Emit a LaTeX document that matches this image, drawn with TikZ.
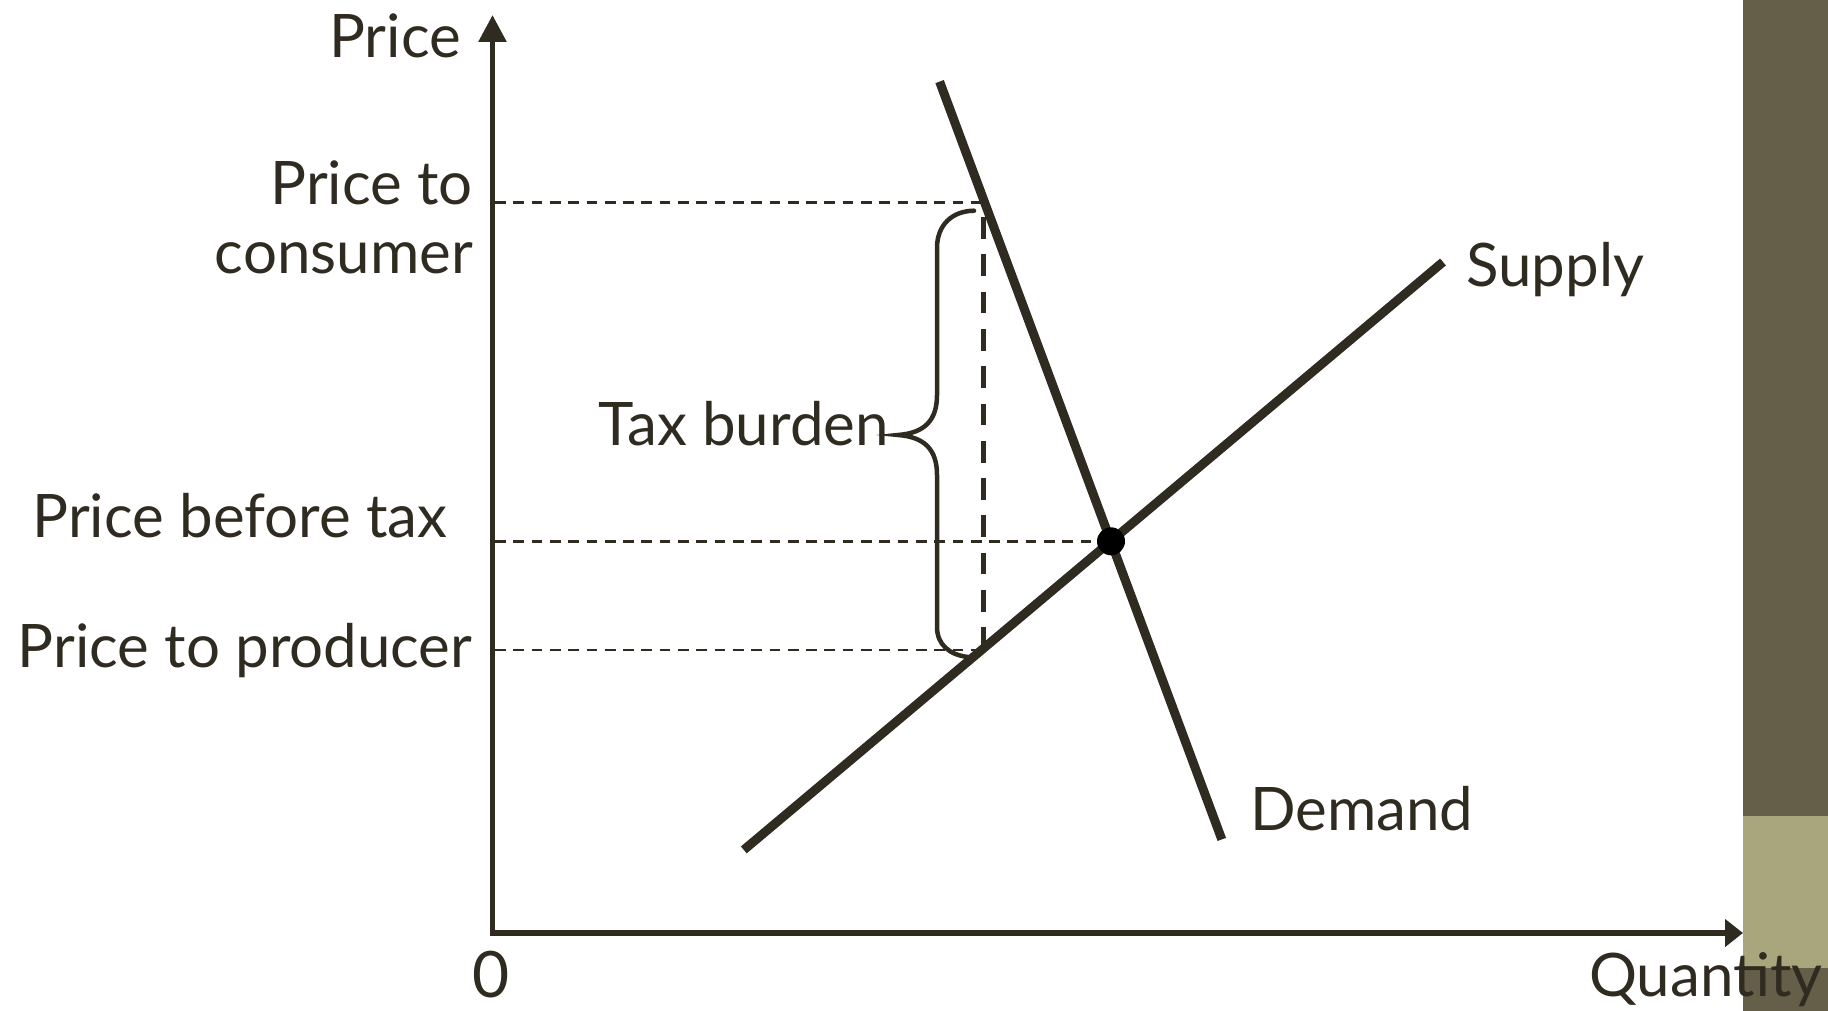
\documentclass[tikz,border=0pt]{standalone}
\usepackage{fontspec}
\setmainfont{Lato}
\usetikzlibrary{arrows.meta}
\definecolor{ink}{HTML}{2F2B20}
\definecolor{bardark}{HTML}{655E48}
\definecolor{barlight}{HTML}{A9A67D}
\pgfdeclareradialshading{bgshade}{\pgfpoint{0bp}{0bp}}{color(0bp)=(white); color(35bp)=(white); color(50bp)=(black!8)}
\begin{document}
\begin{tikzpicture}[x=1pt, y=-1pt,
  lbl/.style={text=ink, inner sep=0pt, font=\fontsize{60pt}{72pt}\selectfont},
  axisline/.style={draw=ink, line width=5.7pt},
  curveline/.style={draw=ink, line width=9pt},
  guide/.style={draw=ink, line width=2.7pt, dash pattern=on 10.7pt off 7.6pt},
  wedge/.style={draw=ink, line width=5.3pt, dash pattern=on 21.7pt off 15.6pt},
  bracestyle/.style={draw=ink, line width=4.5pt, line cap=round},
  dotstyle/.style={circle, fill=black, minimum size=28pt, inner sep=0pt}]
\useasboundingbox (0,0) rectangle (1828,1011);
% background
\fill[white] (0,0) rectangle (1828,1011);
\begin{scope}
  \clip (0,0) rectangle (1743,1011);
  \shade[shading=bgshade] (-800,-400) rectangle (1800,1400);
\end{scope}
\fill[bardark] (1743,0) rectangle (1828,1011);
\fill[barlight] (1743,816) rectangle (1828,968);

% coordinates
\coordinate (O) at (492.5,933);
\coordinate (ytip) at (492.5,15);
\coordinate (xtip) at (1743,933);
\coordinate (D1) at (939.6,81.6);
\coordinate (D2) at (1221.8,839.4);
\coordinate (S1) at (743.8,849.9);
\coordinate (S2) at (1443,262);
\coordinate (ypc) at (495,202.3);
\coordinate (pc) at (984.5,202.3);
\coordinate (ype) at (495,541.3);
\coordinate (ypp) at (495,650);
\coordinate (pp) at (981.5,650);
\coordinate (wt) at (983.3,217);
\coordinate (wb) at (983.3,648.7);

% guides
\draw[guide] (ypc) -- (pc);
\draw[guide] (ype) -- (1111,541.3);
\draw[guide] (ypp) -- (pp);
\draw[wedge] (wt) -- (wb);

% brace
\draw[bracestyle] (974,210.7) .. controls (952,211) and (937,225) .. (937,248)
  -- (937,395) .. controls (937,420) and (925,433) .. (898,435)
  .. controls (925,437) and (937,450) .. (937,475)
  -- (937,627) .. controls (937,645) and (950,655) .. (968,657);

% curves
\draw[curveline] (D1) -- (D2);
\draw[curveline] (S1) -- (S2);
\node[dotstyle] (eq) at (1111,541.3) {};

% axes
\draw[axisline, {Triangle[length=27pt,width=27pt]}-{Triangle[length=18pt,width=27pt]}] (ytip) -- (O) -- (xtip);

% labels
\node[lbl, anchor=base east] (price) at (461,58) {Price};
\node[lbl, anchor=base east] (pto) at (473,205) {Price to};
\node[lbl, anchor=base east] (cons) at (473,273) {consumer};
\node[lbl, anchor=base] (pbt) at (240,537) {Price before tax};
\node[lbl, anchor=base] (ptp) at (245,667) {Price to producer};
\node[lbl, anchor=base east] (tax) at (889,445) {Tax burden};
\node[lbl, anchor=base west] (sup) at (1466,286) {Supply};
\node[lbl, anchor=base west] (dem) at (1250,830) {Demand};
\node[lbl, anchor=base, font=\fontsize{64pt}{76pt}\selectfont] (zero) at (491,997) {0};
\node[lbl, anchor=base west] (qty) at (1589,996) {Quantity};
\end{tikzpicture}
\end{document}
